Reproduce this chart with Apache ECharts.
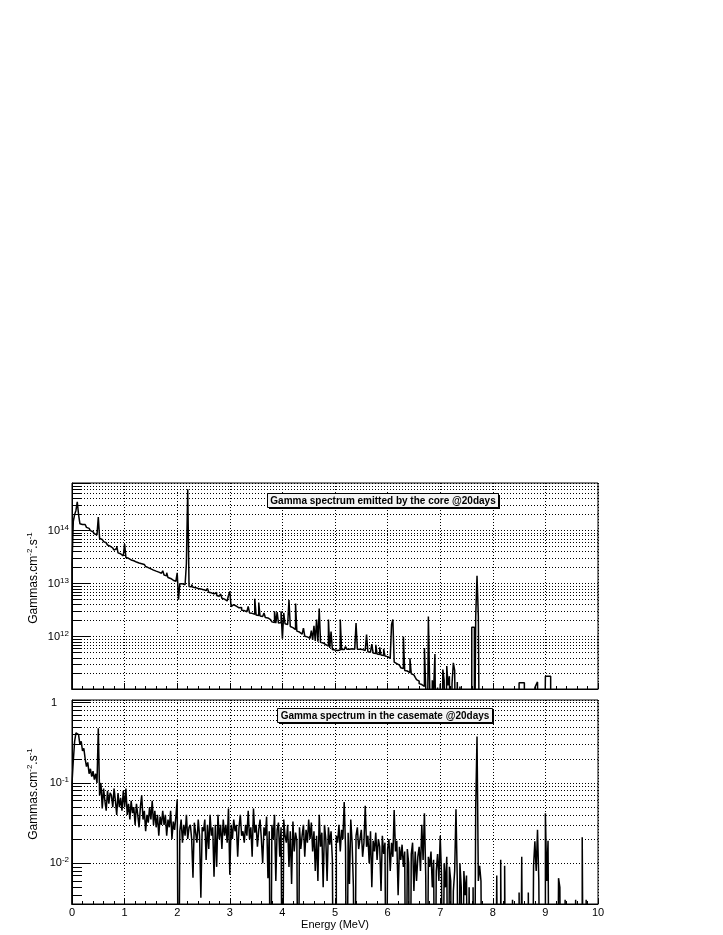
<!DOCTYPE html>
<html>
<head>
<meta charset="utf-8">
<script src="https://cdn.jsdelivr.net/npm/echarts@6/dist/echarts.min.js"></script>
<style>html,body{margin:0;padding:0;background:#fff}#c{width:723px;height:935px}</style>
</head>
<body>
<div id="c"></div>
<script>
// ---------------- data ----------------
const binWidth = 0.025;               // MeV, histogram bin width
const energyTicks = [0, 1, 2, 3, 4, 5, 6, 7, 8, 9, 10];
const coreTitle = 'Gamma spectrum emitted by the core @20days';
const casemateTitle = 'Gamma spectrum in the casemate @20days';
const energyTitle = 'Energy (MeV)';
const coreRange = [1.03e11, 7.9e14];
const casemateRange = [3.1e-3, 1.08];

// Core spectrum, gammas.cm-2.s-1 per bin (0 = empty bin)
const coreFlux = [
  2.4e13, 1.5e14, 2.0e14, 2.4e14, 3.5e14, 2.0e14, 1.35e14, 1.3e14, 1.35e14, 1.3e14,
  1.2e14, 1.15e14, 1.1e14, 1.05e14, 1.0e14, 9.5e13, 9.1e13, 8.7e13, 8.3e13, 7.9e13,
  1.8e14, 7.1e13, 6.8e13, 6.5e13, 6.2e13, 5.9e13, 5.6e13, 5.35e13, 5.1e13, 4.9e13,
  4.7e13, 4.5e13, 4.3e13, 4.6e13, 5.1e13, 3.8e13, 3.65e13, 3.5e13, 3.35e13, 3.25e13,
  5.6e13, 3.1e13, 3.0e13, 2.9e13, 2.8e13, 2.75e13, 2.7e13, 2.6e13, 2.55e13, 2.5e13,
  2.45e13, 2.4e13, 2.38e13, 2.35e13, 2.3e13, 2.2e13, 2.1e13, 2.0e13, 1.95e13, 1.9e13,
  1.85e13, 1.8e13, 1.75e13, 1.72e13, 1.68e13, 1.65e13, 1.6e13, 1.57e13, 1.53e13, 1.75e13,
  1.45e13, 1.4e13, 1.6e13, 1.3e13, 1.25e13, 1.2e13, 1.16e13, 1.13e13, 1.1e13, 1.06e13,
  1.6e13, 5.0e12, 1.0e13, 9.9e12, 1.05e13, 9.5e12, 9.3e12, 2.4e13, 6.0e14, 8.8e12,
  8.7e12, 9.6e12, 8.5e12, 8.4e12, 8.2e12, 8.1e12, 8.0e12, 7.9e12, 7.8e12, 7.7e12,
  7.6e12, 7.4e12, 7.2e12, 8.1e12, 6.9e12, 6.7e12, 6.6e12, 6.4e12, 6.3e12, 6.8e12,
  5.95e12, 5.8e12, 5.6e12, 6.4e12, 5.3e12, 5.1e12, 4.9e12, 4.7e12, 4.5e12, 6.0e12,
  7.1e12, 3.7e12, 4.0e12, 3.9e12, 3.75e12, 3.6e12, 3.5e12, 3.4e12, 3.55e12, 3.15e12,
  3.1e12, 3.0e12, 2.95e12, 2.9e12, 3.7e12, 2.8e12, 2.75e12, 2.7e12, 2.65e12, 5.2e12,
  2.55e12, 2.5e12, 4.4e12, 2.45e12, 2.4e12, 2.35e12, 2.8e12, 2.3e12, 2.25e12, 2.2e12,
  2.1e12, 2.0e12, 1.9e12, 1.85e12, 3.0e12, 1.8e12, 2.9e12, 1.8e12, 1.85e12, 3.0e12,
  9.1e11, 2.8e12, 1.75e12, 1.7e12, 1.7e12, 4.9e12, 1.55e12, 1.48e12, 1.42e12, 1.36e12,
  4.2e12, 1.27e12, 1.22e12, 1.17e12, 1.12e12, 1.08e12, 1.45e12, 1.02e12, 9.9e11, 9.6e11,
  9.3e11, 9.0e11, 1.3e12, 8.7e11, 1.6e12, 8.3e11, 2.1e12, 8.0e11, 3.4e12, 7.8e11,
  7.6e11, 7.3e11, 7.1e11, 6.9e11, 6.6e11, 2.1e12, 6.1e11, 1.25e12, 5.7e11, 5.6e11,
  5.5e11, 5.5e11, 5.6e11, 5.6e11, 2.1e12, 5.7e11, 5.7e11, 5.7e11, 6.5e11, 5.8e11,
  5.8e11, 5.8e11, 5.9e11, 5.8e11, 5.8e11, 5.9e11, 1.8e12, 5.8e11, 5.8e11, 5.7e11,
  5.7e11, 5.6e11, 5.5e11, 5.4e11, 1.1e12, 5.2e11, 5.1e11, 5.0e11, 7.2e11, 4.9e11,
  4.8e11, 7.0e11, 4.7e11, 4.6e11, 6.3e11, 4.5e11, 4.4e11, 5.9e11, 4.3e11, 4.2e11,
  4.1e11, 3.9e11, 3.7e11, 1.7e12, 2.1e12, 3.3e11, 3.1e11, 3.0e11, 2.9e11, 2.7e11,
  2.6e11, 2.5e11, 1.0e12, 2.3e11, 2.25e11, 2.2e11, 2.1e11, 3.9e11, 2.0e11, 1.9e11,
  1.8e11, 1.7e11, 1.55e11, 1.45e11, 1.3e11, 1.25e11, 1.2e11, 1.15e11, 6.1e11, 1.05e11,
  0, 2.4e12, 1.2e11, 0, 1.5e11, 1.0e11, 4.7e11, 0, 1.1e11, 0,
  1.3e11, 0, 2.4e11, 1.5e11, 0, 2.8e11, 1.2e11, 1.8e11, 0, 1.3e11,
  3.2e11, 2.3e11, 0, 1.4e11, 0, 1.15e11, 0, 0, 0, 0,
  0, 0, 0, 0, 1.5e12, 1.5e12, 0, 2.4e12, 1.4e13, 2.4e12,
  0, 0, 0, 0, 0, 0, 0, 0, 0, 0,
  0, 0, 0, 0, 0, 0, 0, 0, 0, 0,
  0, 0, 0, 0, 0, 0, 0, 0, 0, 0,
  1.35e11, 1.35e11, 1.35e11, 1.35e11, 0, 0, 0, 0, 0, 0,
  0, 0, 1.1e11, 1.25e11, 1.4e11, 0, 0, 0, 0, 0,
  1.8e11, 1.8e11, 1.8e11, 1.8e11, 0, 0, 0, 0, 0, 0,
  0, 0, 0, 0, 0, 0, 0, 0, 0, 0,
  0, 0, 0, 0, 0, 0, 0, 0, 0, 0,
  0, 0, 0, 0, 0, 0, 0, 0, 0, 0
];

// Casemate spectrum, gammas.cm-2.s-1 per bin (0 = empty bin)
const casemateFlux = [
  0.1, 0.19, 0.33, 0.42, 0.40, 0.38, 0.3, 0.33, 0.25, 0.27,
  0.2, 0.16, 0.18, 0.13, 0.15, 0.12, 0.14, 0.11, 0.13, 0.1,
  0.48, 0.07, 0.1, 0.048, 0.085, 0.06, 0.045, 0.08, 0.055, 0.075,
  0.07, 0.05, 0.085, 0.06, 0.04, 0.075, 0.05, 0.065, 0.045, 0.08,
  0.05, 0.085, 0.04, 0.055, 0.035, 0.06, 0.042, 0.05, 0.03, 0.055,
  0.04, 0.028, 0.05, 0.07, 0.035, 0.045, 0.025, 0.04, 0.032, 0.05,
  0.035, 0.06, 0.03, 0.045, 0.028, 0.04, 0.022, 0.038, 0.03, 0.045,
  0.03, 0.04, 0.022, 0.035, 0.028, 0.045, 0.02, 0.033, 0.026, 0.038,
  0.062, 0, 0.025, 0.035, 0.018, 0.03, 0.022, 0.04, 0.02, 0.028,
  0.03, 0.02, 0.0066, 0.032, 0.024, 0.018, 0.035, 0.022, 0.0037, 0.028,
  0.025, 0.035, 0.011, 0.03, 0.015, 0.04, 0.022, 0.028, 0.0068, 0.03,
  0.009, 0.04, 0.02, 0.03, 0.015, 0.035, 0.022, 0.03, 0.018, 0.048,
  0.0072, 0.03, 0.02, 0.035, 0.025, 0.03, 0.012, 0.028, 0.04, 0.022,
  0.025, 0.018, 0.03, 0.022, 0.045, 0.02, 0.028, 0.012, 0.048, 0.024,
  0.03, 0.016, 0.026, 0.035, 0.02, 0.01, 0.028, 0.022, 0.038, 0.0065,
  0.025, 0, 0.03, 0.02, 0.04, 0.006, 0.026, 0.032, 0.012, 0.028,
  0, 0.035, 0.022, 0.018, 0.03, 0.009, 0.025, 0.0055, 0.033, 0.014,
  0.024, 0.019, 0, 0.028, 0.015, 0.022, 0.03, 0.012, 0.026, 0.018,
  0.035, 0.02, 0.032, 0.014, 0.025, 0.008, 0.022, 0.006, 0.04, 0.016,
  0.024, 0.005, 0.03, 0.02, 0.006, 0.028, 0.017, 0.025, 0.011, 0,
  0, 0.022, 0.018, 0.03, 0.014, 0.026, 0.02, 0.058, 0.016, 0,
  0.024, 0.0055, 0.035, 0.018, 0.005, 0, 0.022, 0.028, 0.015, 0.02,
  0.026, 0.012, 0.018, 0.052, 0.016, 0.022, 0.01, 0.025, 0.005, 0.019,
  0.014, 0.024, 0.011, 0.02, 0.016, 0.0045, 0.022, 0.013, 0.018, 0,
  0.015, 0.02, 0.008, 0.018, 0.012, 0.046, 0.014, 0.019, 0.004, 0.016,
  0.011, 0.017, 0.009, 0.014, 0, 0.015, 0.01, 0, 0.013, 0.018,
  0.0045, 0.014, 0.006, 0.012, 0.016, 0.008, 0.03, 0.011, 0.042, 0.007,
  0, 0.012, 0.009, 0.014, 0.005, 0.011, 0, 0.008, 0.013, 0.006,
  0.022, 0.007, 0, 0.01, 0.005, 0.012, 0, 0.009, 0.006, 0,
  0.0045, 0.008, 0.047, 0.006, 0, 0.01, 0.005, 0, 0.008, 0.004,
  0.007, 0, 0.005, 0, 0, 0.005, 0, 0.049, 0.38, 0.006,
  0.0093, 0.006, 0, 0, 0, 0, 0, 0, 0, 0,
  0, 0, 0, 0.007, 0, 0, 0.011, 0, 0, 0.0093,
  0, 0, 0, 0, 0, 0.0035, 0, 0, 0, 0,
  0.0043, 0, 0.012, 0, 0, 0, 0, 0.0043, 0, 0,
  0, 0.0093, 0.0187, 0.008, 0.026, 0.006, 0, 0, 0, 0,
  0.042, 0.006, 0.019, 0, 0, 0, 0, 0, 0, 0,
  0.0065, 0.005, 0, 0, 0, 0.0035, 0, 0, 0, 0,
  0, 0, 0, 0.0035, 0, 0, 0, 0, 0.021, 0,
  0, 0.0035, 0, 0, 0, 0, 0, 0, 0, 0
];

// ---------------- build ----------------
const FONT = '"Liberation Sans", Arial, Helvetica, sans-serif';
const DOT = [1, 2];

// histogram outline: empty bins are drawn at the bottom of the log axis
function histData(flux, range) {
  const floor = range[0] / 100;
  const val = v => (v > 0 ? v : floor);
  const d = [[0, floor]];
  flux.forEach((v, i) => d.push([+(i * binWidth).toFixed(4), val(v)]));
  d.push([+(flux.length * binWidth).toFixed(4), floor]);
  return d;
}
// minor decades 2..9 x 10^n inside the range (grid lines + short ticks)
function minorValues(range) {
  const out = [];
  for (let n = Math.floor(Math.log10(range[0])); n <= Math.ceil(Math.log10(range[1])); n++) {
    for (let k = 2; k <= 9; k++) {
      const v = k * Math.pow(10, n);
      if (v > range[0] && v < range[1]) out.push(v);
    }
  }
  return out;
}
function gridMarks(range) {
  const mv = minorValues(range);
  const lines = mv.map(v => ({ yAxis: v }));
  const ticks = mv.map(v => [
    { coord: [0, v], lineStyle: { type: 'solid', color: '#000', width: 1 } },
    { coord: [0.19, v] }
  ]);
  return {
    silent: true, symbol: ['none', 'none'], animation: false,
    label: { show: false }, emphasis: { disabled: true },
    lineStyle: { color: '#000', type: DOT, width: 1 },
    data: lines.concat(ticks)
  };
}
function logLabel(v) {
  const l = Math.log10(v), n = Math.round(l);
  if (Math.abs(l - n) > 1e-6) return '';
  return n === 0 ? '{one|1}' : '{b|10}{e|' + n + '}';
}
const yLabel = {
  margin: 3, formatter: logLabel,
  rich: {
    b: { fontSize: 11, lineHeight: 14, fontFamily: FONT, color: '#000' },
    e: { fontSize: 8, verticalAlign: 'top', fontFamily: FONT, color: '#000' },
    one: { fontSize: 11, lineHeight: 14, padding: [0, 12, 0, 0], fontFamily: FONT, color: '#000' }
  }
};
const yName = '{t|Gammas.cm}{s|-2}{t|.s}{s|-1}';
const yNameStyle = {
  padding: [0, 0, 0, 16],
  rich: {
    t: { fontSize: 12, lineHeight: 16, fontFamily: FONT, color: '#000' },
    s: { fontSize: 8, verticalAlign: 'top', fontFamily: FONT, color: '#000' }
  }
};
function yAxis(gridIndex, range) {
  return {
    type: 'log', logBase: 10, gridIndex, min: range[0], max: range[1],
    name: yName, nameLocation: 'middle', nameRotate: 90, nameGap: 30,
    nameMoveOverlap: false,
    nameTextStyle: yNameStyle,
    axisLine: { show: true, lineStyle: { color: '#000', width: 1 } },
    axisTick: { show: true, inside: true, length: 18, lineStyle: { color: '#000' } },
    minorTick: { show: false },
    axisLabel: yLabel,
    splitLine: { show: true, lineStyle: { color: '#000', type: DOT, width: 1 } }
  };
}
function xAxis(gridIndex, showLabels) {
  return {
    type: 'value', gridIndex, min: energyTicks[0], max: energyTicks[energyTicks.length - 1], interval: 1,
    name: showLabels ? energyTitle : '', nameLocation: 'middle', nameGap: 15,
    nameTextStyle: { fontSize: 11, fontFamily: FONT, color: '#000' },
    axisLine: { show: true, lineStyle: { color: '#000', width: 1 } },
    axisTick: { show: true, inside: true, length: 6, lineStyle: { color: '#000' } },
    minorTick: { show: true, splitNumber: 5, length: 3, lineStyle: { color: '#000' } },
    axisLabel: { show: showLabels, margin: 3, fontSize: 11, fontFamily: FONT, color: '#000' },
    splitLine: { show: true, lineStyle: { color: '#000', type: DOT, width: 1 } }
  };
}
function titleBox(text, left, top, width) {
  return {
    type: 'group', left, top, silent: true, z: 100,
    children: [
      { type: 'rect', z: 100, shape: { x: 2, y: 2, width, height: 14 }, style: { fill: '#000' } },
      { type: 'rect', z: 101, shape: { x: 0.5, y: 0.5, width, height: 14 }, style: { fill: '#f4f4f4', stroke: '#000', lineWidth: 1 } },
      { type: 'text', z: 102, x: width / 2 + 0.5, y: 8, style: { text, font: 'bold 10px ' + FONT, fill: '#000', align: 'center', verticalAlign: 'middle' } }
    ]
  };
}

const chart = echarts.init(document.getElementById('c'), null, { renderer: 'canvas' });
chart.setOption({
  animation: false,
  backgroundColor: '#fff',
  grid: [
    { left: 72, top: 483, width: 526, height: 206, show: true, borderColor: '#000', borderWidth: 1, backgroundColor: 'transparent' },
    { left: 72, top: 700, width: 526, height: 204, show: true, borderColor: '#000', borderWidth: 1, backgroundColor: 'transparent' }
  ],
  xAxis: [xAxis(0, false), xAxis(1, true)],
  yAxis: [yAxis(0, coreRange), yAxis(1, casemateRange)],
  series: [
    {
      type: 'line', xAxisIndex: 0, yAxisIndex: 0, step: 'end', symbol: 'none', showSymbol: false,
      clip: true, sampling: null, silent: true,
      lineStyle: { color: '#000', width: 1.5 },
      data: histData(coreFlux, coreRange),
      markLine: gridMarks(coreRange)
    },
    {
      type: 'line', xAxisIndex: 1, yAxisIndex: 1, step: 'end', symbol: 'none', showSymbol: false,
      clip: true, sampling: null, silent: true,
      lineStyle: { color: '#000', width: 1.5 },
      data: histData(casemateFlux, casemateRange),
      markLine: gridMarks(casemateRange)
    }
  ],
  graphic: [
    titleBox(coreTitle, 267, 493, 231),
    titleBox(casemateTitle, 277, 708, 215)
  ]
});
</script>
</body>
</html>
